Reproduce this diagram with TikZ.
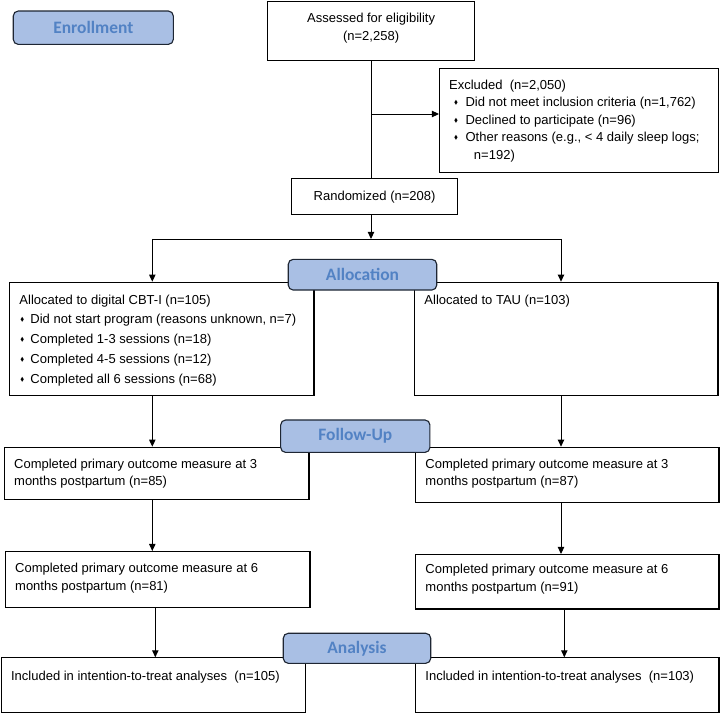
\documentclass[tikz,border=0pt]{standalone}
\usepackage{fontspec}
\usepackage{amssymb}
\setmainfont{Liberation Sans}
\newfontfamily\stagefont{Carlito}
\usetikzlibrary{arrows.meta}

\definecolor{stagefill}{HTML}{A9BFE4}
\definecolor{stagetext}{HTML}{5282C4}
\definecolor{stageline}{HTML}{1E2633}

% box text: width, height, top pad, line skip, text
\newcommand{\boxtext}[5]{\begin{minipage}[t][#2][t]{#1}\setlength{\baselineskip}{#4}\vspace*{#3}\strut#5\end{minipage}}
\newcommand{\dia}{\raisebox{0.3ex}{\scalebox{0.45}{$\blacklozenge$}}}

\tikzset{
  flowbox/.style={draw, line width=0.8pt, inner xsep=0.24cm, inner ysep=0pt, anchor=north west,
    font=\fontsize{9.25}{12.8}\selectfont},
  stage/.style={draw=stageline, fill=stagefill, rounded corners=3.5pt, line width=0.8pt, text=stagetext,
    font=\stagefont\bfseries\fontsize{12.4}{14}\selectfont, inner sep=0pt},
  link/.style={line width=0.7pt},
  arrowlink/.style={link, -{Triangle[length=5pt,width=4.5pt]}},
}

\begin{document}
\begin{tikzpicture}[x=0.025cm, y=-0.025cm]
\useasboundingbox (0,0) rectangle (720,714);

% enrollment
\node[flowbox] (assess) at (267,1) {\boxtext{4.695cm}{1.475cm}{0.197cm}{0.45cm}{\centering Assessed for eligibility\\(n=2,258)}};
\node[flowbox] (excl) at (439,68.3) {\boxtext{6.495cm}{2.6cm}{0.197cm}{0.4375cm}{Excluded\ \ (n=2,050)\\
\hspace*{0.125cm}\makebox[0.285cm][l]{\dia}Did not meet inclusion criteria (n=1,762)\\
\hspace*{0.125cm}\makebox[0.285cm][l]{\dia}Declined to participate (n=96)\\
\hspace*{0.125cm}\makebox[0.285cm][l]{\dia}Other reasons (e.g., < 4 daily sleep logs;\\
\hspace*{0.62cm}n=192)}};
\node[flowbox] (random) at (291,178.3) {\boxtext{3.67cm}{0.8925cm}{0.215cm}{0.45cm}{\centering Randomized (n=208)}};

% allocation
\node[flowbox] (cbti) at (9.3,281.7) {\boxtext{7.12cm}{2.8325cm}{0.23cm}{0.495cm}{Allocated to digital CBT-I (n=105)\\
\hspace*{0.025cm}\makebox[0.25cm][l]{\dia}Did not start program (reasons unknown, n=7)\\
\hspace*{0.025cm}\makebox[0.25cm][l]{\dia}Completed 1-3 sessions (n=18)\\
\hspace*{0.025cm}\makebox[0.25cm][l]{\dia}Completed 4-5 sessions (n=12)\\
\hspace*{0.025cm}\makebox[0.25cm][l]{\dia}Completed all 6 sessions (n=68)}};
\node[flowbox] (tau) at (414.3,281.7) {\boxtext{7.095cm}{2.8325cm}{0.23cm}{0.495cm}{Allocated to TAU (n=103)}};

% follow-up
\node[flowbox] (fuL3) at (4,446.7) {\boxtext{7.13cm}{1.3cm}{0.21cm}{0.4425cm}{Completed primary outcome measure at 3\\months postpartum (n=85)}};
\node[flowbox] (fuR3) at (415.3,446.7) {\boxtext{7.095cm}{1.375cm}{0.21cm}{0.4425cm}{Completed primary outcome measure at 3\\months postpartum (n=87)}};
\node[flowbox] (fuL6) at (5,551) {\boxtext{7.13cm}{1.39cm}{0.215cm}{0.4425cm}{Completed primary outcome measure at 6\\months postpartum (n=81)}};
\node[flowbox] (fuR6) at (415.3,554) {\boxtext{7.095cm}{1.36cm}{0.17cm}{0.4425cm}{Completed primary outcome measure at 6\\months postpartum (n=91)}};

% analysis
\node[flowbox] (anaL) at (0.9,657.3) {\boxtext{7.11cm}{1.36cm}{0.24cm}{0.45cm}{Included in intention-to-treat analyses\ \ (n=105)}};
\node[flowbox] (anaR) at (415.3,657.3) {\boxtext{7.095cm}{1.36cm}{0.24cm}{0.45cm}{Included in intention-to-treat analyses\ \ (n=103)}};

% branch points
\coordinate (exsplit) at (371,114);
\coordinate (split) at (371,239);
\coordinate (splitL) at (152.3,239);
\coordinate (splitR) at (561,239);
\coordinate (colL) at (152.3,0);
\coordinate (colLb) at (155.3,0);
\coordinate (colR) at (561,0);
\coordinate (colRb) at (564.3,0);

\draw[link] (assess.south -| split) -- (random.north -| split);
\draw[arrowlink] (exsplit) -- (exsplit -| excl.west);
\draw[arrowlink] (random.south -| split) -- (split);
\draw[link] (splitL) -- (splitR);
\draw[arrowlink] (splitL) -- (cbti.north -| splitL);
\draw[arrowlink] (splitR) -- (tau.north -| splitR);
\draw[arrowlink] (cbti.south -| colL) -- (fuL3.north -| colL);
\draw[arrowlink] (fuL3.south -| colL) -- (fuL6.north -| colL);
\draw[arrowlink] (fuL6.south -| colLb) -- (anaL.north -| colLb);
\draw[arrowlink] (tau.south -| colR) -- (fuR3.north -| colR);
\draw[arrowlink] (fuR3.south -| colR) -- (fuR6.north -| colR);
\draw[arrowlink] (fuR6.south -| colRb) -- (anaR.north -| colRb);

% stage labels
\node[stage, minimum width=4.0cm, minimum height=0.833cm] (enroll) at (93.3,27.7) {Enrollment};
\node[stage, minimum width=3.71cm, minimum height=0.7675cm] (alloc) at (362.5,274.7) {Allocation};
\node[stage, minimum width=3.73cm, minimum height=0.81cm] (follow) at (355.3,436.2) {Follow-Up};
\node[stage, minimum width=3.685cm, minimum height=0.75cm] (analysis) at (357,648.3) {Analysis};
\end{tikzpicture}
\end{document}
